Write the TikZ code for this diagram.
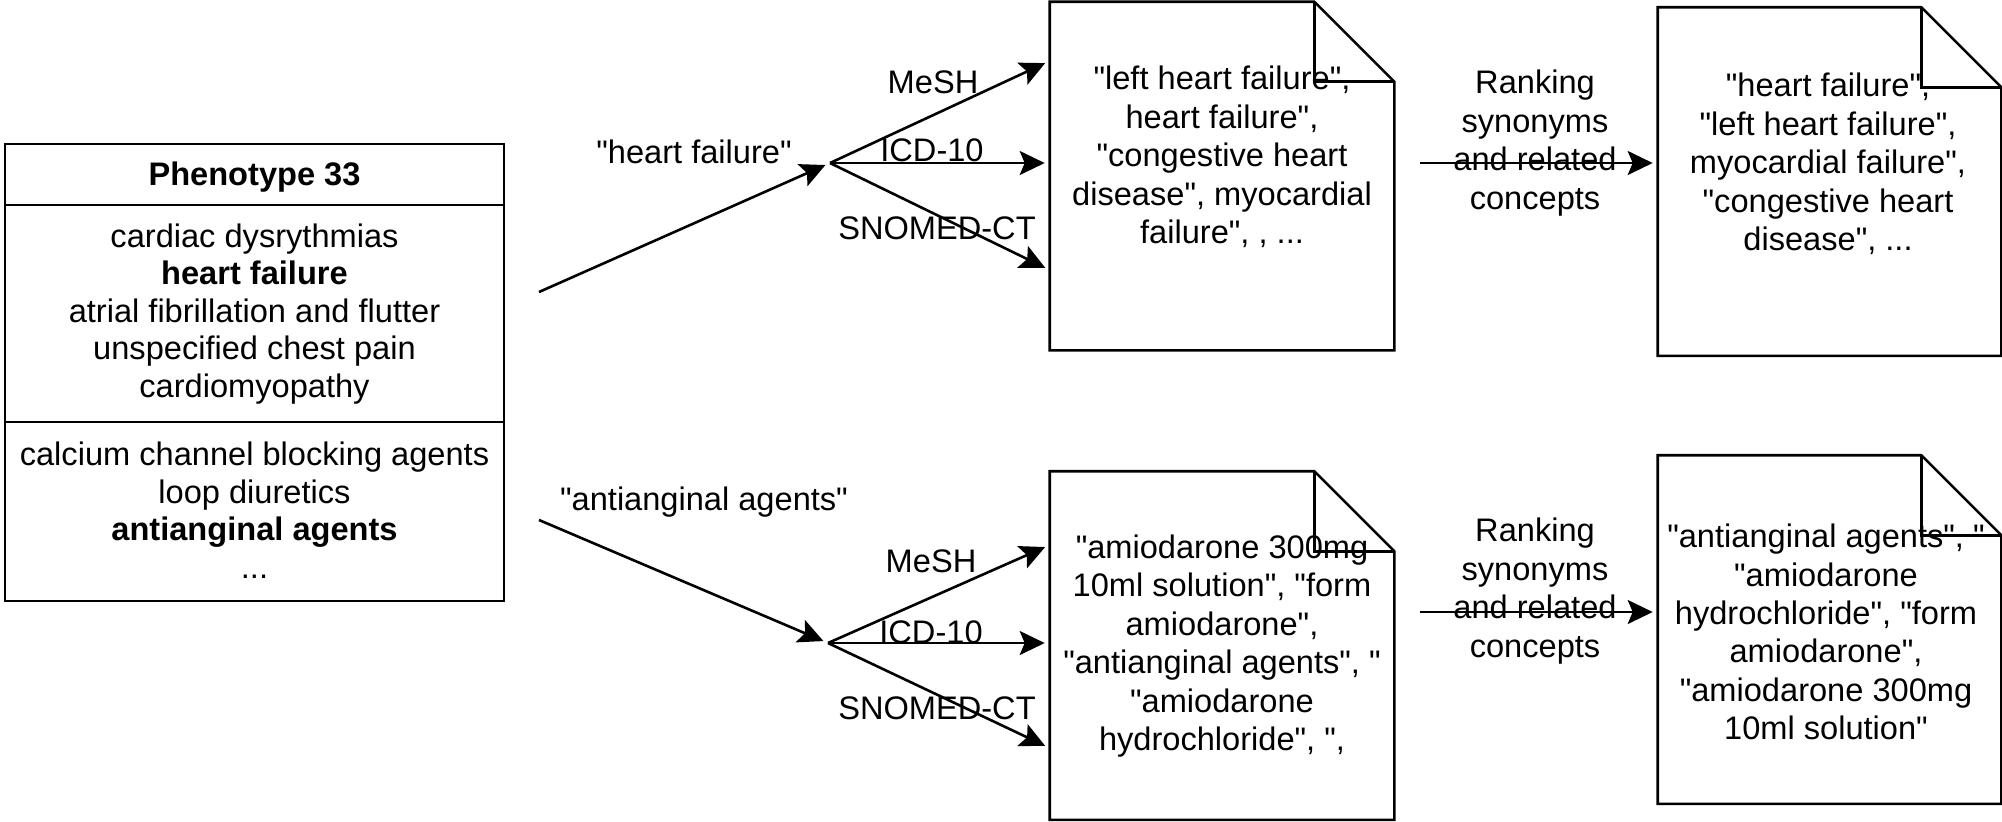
\documentclass[tikz,border=0pt]{standalone}
\usepackage{fontspec}
\newfontfamily\dio{Liberation Sans}
\usetikzlibrary{arrows.meta,calc}

% note shape with a folded top-right corner, drawn around a named node
\newcommand\foldnote[1]{%
  \draw (#1.north west) -- ([xshift=-40pt]#1.north east) -- ([yshift=-40pt]#1.north east)
        -- (#1.south east) -- (#1.south west) -- cycle;
  \draw ([xshift=-40pt]#1.north east) -- ([xshift=-40pt,yshift=-40pt]#1.north east)
        -- ([yshift=-40pt]#1.north east);
}

\begin{document}
\begin{tikzpicture}[x=0.5pt,y=-0.5pt,
  line width=1.3pt,
  tip/.style={-{Stealth[length=12.5pt,width=12pt,inset=2.5pt]}, shorten >=2.5pt},
  txt/.style={font=\dio\fontsize{16.3pt}{19.2pt}\selectfont, align=center, inner sep=0pt},
  listtxt/.style={txt, font=\dio\fontsize{16.3pt}{18.75pt}\selectfont},
  boldtxt/.style={txt, font=\dio\fontsize{16.3pt}{19.2pt}\selectfont\bfseries},
  docframe/.style={inner sep=0pt, minimum width=171pt, minimum height=173pt},
]
\useasboundingbox (0,0) rectangle (2002,821);

% ---- phenotype table ----
\node[draw, inner sep=0pt, minimum width=249.5pt, minimum height=228.5pt] (pheno) at (254.5,372.5) {};
\draw (5,205) -- (504,205);
\draw (5,422) -- (504,422);
\node[boldtxt] (title) at (254.5,177) {Phenotype 33};
\node[listtxt] (dx) at (254.5,314) {cardiac dysrythmias\\\textbf{heart failure}\\atrial fibrillation and flutter\\unspecified chest pain\\cardiomyopathy};
\node[listtxt] (rx) at (254.5,510) {calcium channel blocking agents\\loop diuretics\\\textbf{antianginal agents}\\...};

% ---- documents ----
\node[docframe] (m1) at (1222,176) {};
\node[docframe] (m2) at (1222,645.5) {};
\node[docframe, minimum width=170.5pt] (r1) at (1829.5,181.5) {};
\node[docframe, minimum width=170.5pt] (r2) at (1829.5,629.5) {};
\foldnote{m1}
\foldnote{m2}
\foldnote{r1}
\foldnote{r2}

\node[txt] (m1t) at (1222,157) {"left heart failure",\\heart failure",\\"congestive heart\\disease", myocardial\\failure", , ...};
\node[txt] (m2t) at (1222,646) {"amiodarone 300mg\\10ml solution", "form\\amiodarone",\\"antianginal agents", "\\"amiodarone\\hydrochloride", ",};
\node[txt] (r1t) at (1828,164) {"heart failure",\\"left heart failure",\\myocardial failure",\\"congestive heart\\disease", ...};
\node[txt] (r2t) at (1826,632) {"antianginal agents", "\\"amiodarone\\hydrochloride", "form\\amiodarone",\\"amiodarone 300mg\\10ml solution"};

% ---- upper query: heart failure ----
\coordinate (s1) at (539,292);
\coordinate (j1) at (830,163);
\draw[tip] (s1) -- (j1);
\draw[tip] (j1) -- ($(j1 -| m1.west)+(0,-102)$);
\draw[tip] (j1) -- (j1 -| m1.west);
\draw[tip] (j1) -- ($(j1 -| m1.west)+(0,107)$);
\node[txt] (hfl) at (694,152) {"heart failure"};
\node[txt] (mesh1) at (933,82) {MeSH};
\node[txt] (icd1) at (932,150) {ICD-10};
\node[txt] (sno1) at (937,228) {SNOMED-CT};

% ---- lower query: antianginal agents ----
\coordinate (s2) at (539,520);
\coordinate (j2) at (828,643);
\draw[tip] (s2) -- (j2);
\draw[tip] (j2) -- ($(j2 -| m2.west)+(0,-98)$);
\draw[tip] (j2) -- (j2 -| m2.west);
\draw[tip] (j2) -- ($(j2 -| m2.west)+(0,105)$);
\node[txt] (aal) at (704,502) {"antianginal agents"};
\node[txt] (mesh2) at (931,561) {MeSH};
\node[txt] (icd2) at (931,632) {ICD-10};
\node[txt] (sno2) at (937,708) {SNOMED-CT};

% ---- ranking steps ----
\coordinate (q1) at (1420,163);
\draw[tip] (q1) -- (q1 -| r1.west);
\node[txt] (rk1) at (1535,143) {Ranking\\synonyms\\and related\\concepts};
\coordinate (q2) at (1420,612);
\draw[tip] (q2) -- (q2 -| r2.west);
\node[txt] (rk2) at (1535,591) {Ranking\\synonyms\\and related\\concepts};
\end{tikzpicture}
\end{document}
